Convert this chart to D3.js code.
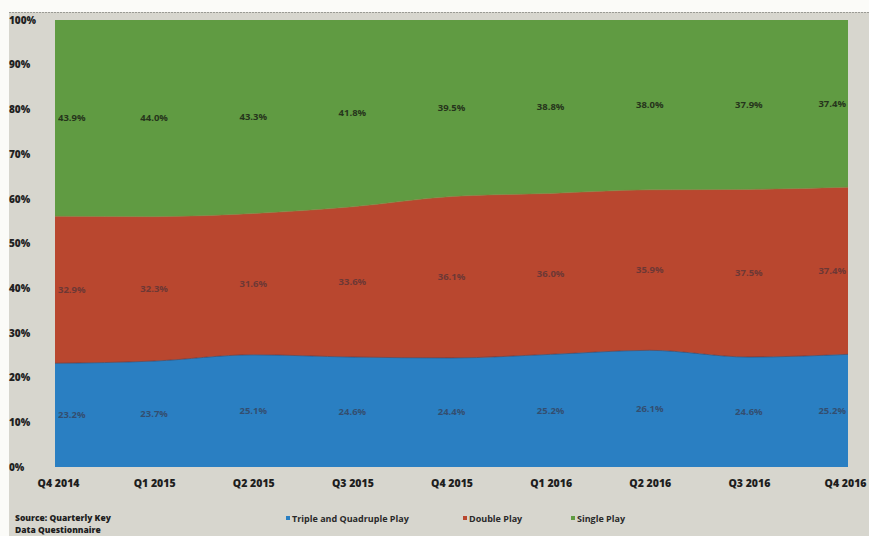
<!DOCTYPE html>
<html>
<head>
<meta charset="utf-8">
<script src="https://cdn.jsdelivr.net/npm/d3@7"></script>
<style>
  html, body { margin: 0; padding: 0; background: #ffffff; }
  svg { display: block; }
  text { font-family: "Open Sans", "DejaVu Sans", sans-serif; }
</style>
</head>
<body>
<svg id="chart" width="869" height="536"></svg>
<script>
// Quarterly share of subscriptions by bundle type (%)
const quarters = ["Q4 2014", "Q1 2015", "Q2 2015", "Q3 2015", "Q4 2015", "Q1 2016", "Q2 2016", "Q3 2016", "Q4 2016"];
const triplePlay = [23.2, 23.7, 25.1, 24.6, 24.4, 25.2, 26.1, 24.6, 25.2];
const doublePlay = [32.9, 32.3, 31.6, 33.6, 36.1, 36.0, 35.9, 37.5, 37.4];
const singlePlay = [43.9, 44.0, 43.3, 41.8, 39.5, 38.8, 38.0, 37.9, 37.4];
const seriesNames = ["Triple and Quadruple Play", "Double Play", "Single  Play"];
const yTicks = [0, 10, 20, 30, 40, 50, 60, 70, 80, 90, 100];

const colors = ["#2a7fc2", "#b9472f", "#609b42"];

const svg = d3.select("#chart");
const W = 869, H = 536;

// page backdrop
svg.append("rect").attr("width", W).attr("height", H).attr("fill", "#fbfbf8");
svg.append("rect").attr("x", 9).attr("y", 12).attr("width", W - 9).attr("height", H - 12)
  .attr("fill", "#d7d6ce");
svg.append("line").attr("x1", 9).attr("x2", W).attr("y1", 12.5).attr("y2", 12.5)
  .attr("stroke", "#9a9a94").attr("stroke-dasharray", "2,1");

const plot = { left: 55, right: 848, top: 20, bottom: 467 };

const x = d3.scalePoint().domain(quarters).range([plot.left, plot.right]);
const y = d3.scaleLinear().domain([0, 100]).range([plot.bottom, plot.top]);

const rows = quarters.map((q, i) => ({
  quarter: q,
  triple: triplePlay[i],
  double: doublePlay[i],
  single: singlePlay[i]
}));
const keys = ["triple", "double", "single"];
const stacked = d3.stack().keys(keys)(rows);

const area = d3.area()
  .x(d => x(d.data.quarter))
  .y0(d => y(d[0]))
  .y1(d => y(d[1]))
  .curve(d3.curveMonotoneX);

svg.append("g").selectAll("path")
  .data(stacked)
  .join("path")
  .attr("d", area)
  .attr("fill", (d, i) => colors[i]);

// thin darker seams along the boundaries
const edge = d3.line()
  .x(d => x(d.data.quarter))
  .y(d => y(d[1]))
  .curve(d3.curveMonotoneX);
svg.append("g").selectAll("path")
  .data(stacked.slice(0, 2))
  .join("path")
  .attr("d", edge)
  .attr("fill", "none")
  .attr("stroke", (d, i) => i === 0 ? "#3a3a55" : "#8a7a3a")
  .attr("stroke-width", 1)
  .attr("opacity", 0.6);

// Y axis labels
const yAxis = d3.axisLeft(y).tickValues(yTicks).tickFormat(d => d + "%").tickSize(0).tickPadding(10);
const gy = svg.append("g").attr("transform", `translate(${plot.left},0)`).call(yAxis);
gy.select(".domain").remove();
gy.selectAll("text")
  .attr("font-size", 10).attr("font-weight", 800).attr("fill", "#222")
  .attr("text-anchor", "start").attr("x", 9 - plot.left);

// X axis labels
const xAxis = d3.axisBottom(x).tickSize(0).tickPadding(13);
const gx = svg.append("g").attr("transform", `translate(0,${plot.bottom})`).call(xAxis);
gx.select(".domain").remove();
gx.selectAll("text")
  .attr("font-size", 10.5).attr("font-weight", 800).attr("fill", "#1e1e1e")
  .attr("text-anchor", "middle")
  .attr("dx", (d, i) => i === 0 ? 3 : (i === quarters.length - 1 ? -3 : 0));

// value labels in the middle of each band
const fmt = d => d.toFixed(1) + "%";
stacked.forEach((layer, li) => {
  svg.append("g").selectAll("text")
    .data(layer)
    .join("text")
    .attr("x", (d, i) => {
      const px = x(d.data.quarter);
      return i === 0 ? px + 3 : (i === quarters.length - 1 ? px - 2 : px);
    })
    .attr("y", d => y((d[0] + d[1]) / 2) + 3)
    .attr("text-anchor", (d, i) => i === 0 ? "start" : (i === quarters.length - 1 ? "end" : "middle"))
    .attr("font-size", 9.5)
    .attr("font-weight", 700)
    .attr("fill", li === 2 ? "#1f2a18" : "#3a2f3a")
    .attr("opacity", li === 2 ? 0.9 : 0.6)
    .text(d => fmt(d.data[keys[li]]));
});

// legend
const legendX = [286, 463, 571];
const lg = svg.append("g").selectAll("g")
  .data(seriesNames)
  .join("g")
  .attr("transform", (d, i) => `translate(${legendX[i]},522)`);
lg.append("rect").attr("x", 0).attr("y", -6).attr("width", 4).attr("height", 4)
  .attr("fill", (d, i) => colors[i]);
lg.append("text").attr("x", 6).attr("y", 0)
  .attr("font-size", 9).attr("font-weight", 700).attr("fill", "#2a2a2a")
  .text(d => d);

// source note
svg.append("text").attr("x", 15).attr("y", 521)
  .attr("font-size", 8.5).attr("font-weight", 800).attr("fill", "#1e1e1e")
  .text("Source: Quarterly Key");
svg.append("text").attr("x", 15).attr("y", 533)
  .attr("font-size", 8.5).attr("font-weight", 800).attr("fill", "#1e1e1e")
  .text("Data Questionnaire");
</script>
</body>
</html>
